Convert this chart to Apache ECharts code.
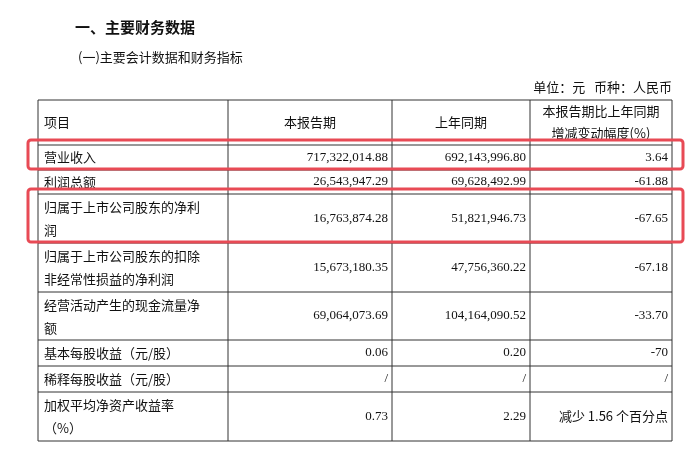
<!DOCTYPE html>
<html><head><meta charset="utf-8">
<script src="https://cdn.jsdelivr.net/npm/echarts@6/dist/echarts.min.js"></script>
<style>html,body{margin:0;padding:0;background:#fff}#c{width:697px;height:451px}</style>
</head><body><div id="c"></div>
<script>
const headers = ['项目', '本报告期', '上年同期', ['本报告期比上年同期', '增减变动幅度(%)']];
const items = [['营业收入'], ['利润总额'], ['归属于上市公司股东的净利', '润'], ['归属于上市公司股东的扣除', '非经常性损益的净利润'], ['经营活动产生的现金流量净', '额'], ['基本每股收益（元/股）'], ['稀释每股收益（元/股）'], ['加权平均净资产收益率', '（%）']];
const current = ['717,322,014.88', '26,543,947.29', '16,763,874.28', '15,673,180.35', '69,064,073.69', '0.06', '/', '0.73'];
const previous = ['692,143,996.80', '69,628,492.99', '51,821,946.73', '47,756,360.22', '104,164,090.52', '0.20', '/', '2.29'];
const change = ['3.64', '-61.88', '-67.65', '-67.18', '-33.70', '-70', '/', '减少 1.56 个百分点'];
const highlighted = [0, 2];

const chart = echarts.init(document.getElementById('c'));
const cols = [38, 228, 392, 530, 672];
const rows = [100, 145, 170, 194, 243, 292, 340, 366, 392, 441];
const F = '"Noto Sans CJK SC", "Liberation Serif", serif';
const NF = '"Liberation Serif", "Noto Sans CJK SC", serif';
const g = [];
function txt(x, y, s, align, font, size, weight) {
  g.push({type: 'text', x, y, style: {text: s, fill: '#111', font: (weight || 'normal') + ' ' + (size || 13) + 'px ' + (font || F), textAlign: align || 'left', textVerticalAlign: 'middle'}});
}
function line(x1, y1, x2, y2) {
  g.push({type: 'line', shape: {x1, y1, x2, y2}, style: {stroke: '#333', lineWidth: 1}});
}
txt(75, 27, '一、主要财务数据', 'left', F, 15, 'bold');
txt(78, 57, '(一)主要会计数据和财务指标', 'left', F, 13);
txt(672, 87, '单位：元   币种：人民币', 'right', F, 13);
rows.forEach(y => line(cols[0], y, cols[4], y));
cols.forEach(x => line(x, rows[0], x, rows[rows.length - 1]));
// header
txt(44, 122, headers[0]);
txt((cols[1] + cols[2]) / 2, 122, headers[1], 'center');
txt((cols[2] + cols[3]) / 2, 122, headers[2], 'center');
txt((cols[3] + cols[4]) / 2, 111, headers[3][0], 'center');
txt((cols[3] + cols[4]) / 2, 133, headers[3][1], 'center');
items.forEach((it, i) => {
  const t = rows[i + 1], b = rows[i + 2], m = (t + b) / 2;
  if (it.length === 1) txt(44, m, it[0]);
  else { txt(44, m - 11, it[0]); txt(44, m + 12, it[1]); }
  txt(cols[2] - 4, m, current[i], 'right', NF, 13);
  txt(cols[3] - 4, m, previous[i], 'right', NF, 13);
  txt(cols[4] - 4, m, change[i], 'right', /[^\d.\-\/]/.test(change[i]) ? F : NF, 13);
});
highlighted.forEach(i => {
  g.push({type: 'rect', shape: {x: 28, y: rows[i + 1] - 5, width: 655, height: rows[i + 2] - rows[i + 1] + 4, r: 3},
    style: {fill: 'none', stroke: '#e84a55', lineWidth: 3}});
});
chart.setOption({animation: false, graphic: g});
</script></body></html>
